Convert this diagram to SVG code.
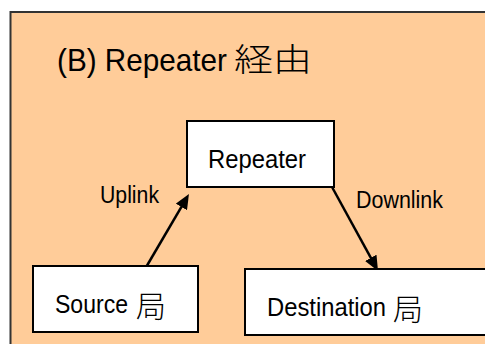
<svg xmlns="http://www.w3.org/2000/svg" width="485" height="344" viewBox="0 0 485 344">
<style>
.lat{font-family:"Liberation Sans",Arial,sans-serif;fill:#000}
.cjk{font-family:"Noto Sans CJK JP","Noto Sans CJK SC",sans-serif;fill:#000;font-weight:300}
.box{fill:#fff;stroke:#000;stroke-width:2}
.conn{stroke:#000;stroke-width:2.5;fill:none}
</style>
<defs>
<marker id="ah" markerUnits="userSpaceOnUse" markerWidth="16" markerHeight="13" refX="5" refY="6.5" orient="auto">
<path d="M0,0 L15,6.5 L0,13 z" fill="#000"/>
</marker>
</defs>
<rect width="485" height="344" fill="#fff"/>
<g id="frame">
<rect x="10.5" y="12" width="500" height="400" fill="#FFCC99" stroke="#333" stroke-width="2"/>
<text class="lat" x="57" y="71" font-size="32" textLength="170" lengthAdjust="spacingAndGlyphs">(B) Repeater</text>
<text class="cjk" x="234" y="71" font-size="32" textLength="78" lengthAdjust="spacingAndGlyphs">経由</text>
</g>
<g id="connectors">
<path class="conn" d="M145,269 L183.9,202.6" marker-end="url(#ah)"/>
<path class="conn" d="M332,187 L373.2,262.2" marker-end="url(#ah)"/>
<text class="lat" x="100" y="203" font-size="23" textLength="59" lengthAdjust="spacingAndGlyphs">Uplink</text>
<text class="lat" x="356" y="208" font-size="23" textLength="87" lengthAdjust="spacingAndGlyphs">Downlink</text>
</g>
<g id="repeater">
<rect class="box" x="187" y="121" width="147" height="66"/>
<text class="lat" x="208" y="168" font-size="26" textLength="98" lengthAdjust="spacingAndGlyphs">Repeater</text>
</g>
<g id="source">
<rect class="box" x="33" y="266" width="165" height="66"/>
<text class="lat" x="55" y="313" font-size="26" textLength="73" lengthAdjust="spacingAndGlyphs">Source</text>
<text class="cjk" x="136" y="317" font-size="30">局</text>
</g>
<g id="destination">
<rect class="box" x="245" y="269" width="260" height="66"/>
<text class="lat" x="267" y="316" font-size="26" textLength="119" lengthAdjust="spacingAndGlyphs">Destination</text>
<text class="cjk" x="393" y="320" font-size="30">局</text>
</g>
</svg>
